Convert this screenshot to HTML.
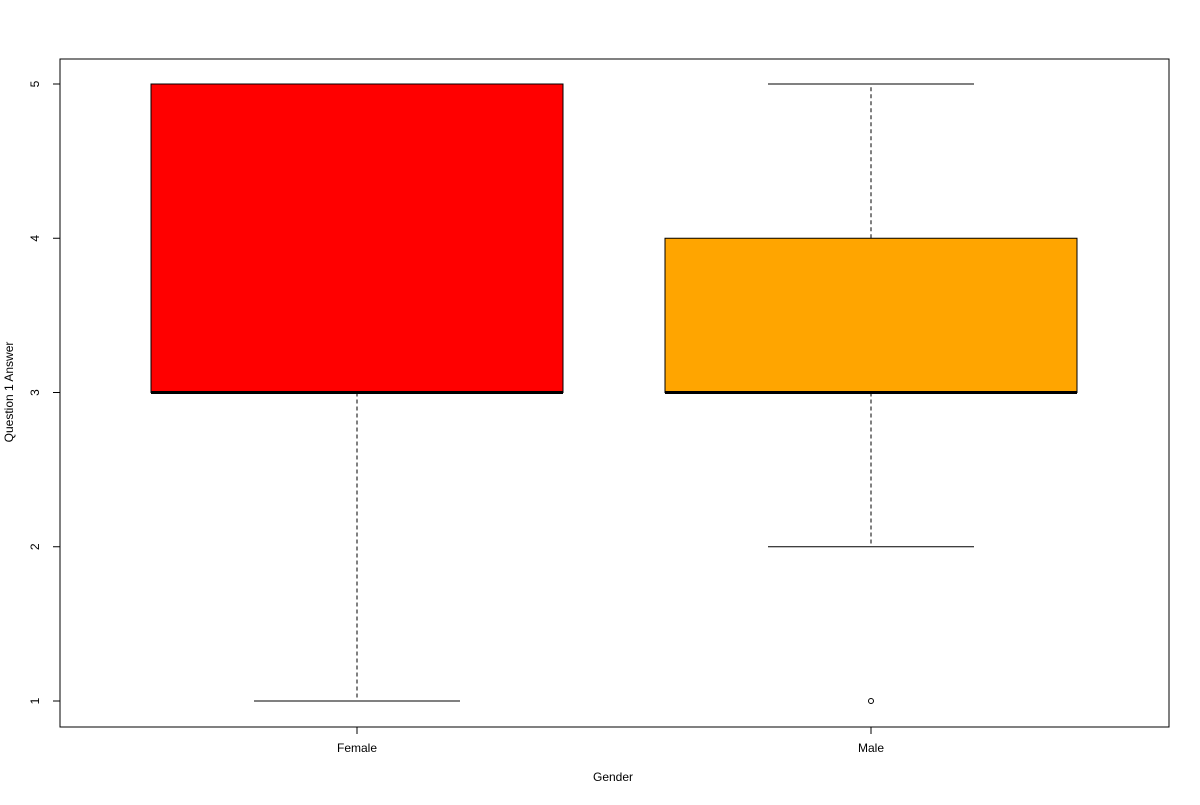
<!DOCTYPE html>
<html><head><meta charset="utf-8"><style>
body{margin:0;background:#fff}
svg text{font-family:"Liberation Sans",Arial,sans-serif;font-size:12px;fill:#000}
</style></head><body>
<svg id="chart" width="1200" height="800">
<rect x="60" y="59" width="1109" height="668" fill="none" stroke="#000"/>
<g id="marks"></g>
<text x="613" y="781" text-anchor="middle">Gender</text>
<text transform="translate(13,392) rotate(-90)" text-anchor="middle">Question 1 Answer</text>
</svg>
<script>
const categories=["Female","Male"];
const colors=["#ff0000","#ffa500"];
const mins=[1,2];
const q1s=[3,3];
const medians=[3,3];
const q3s=[5,4];
const maxs=[5,5];
const outliers=[[],[1]];
const yTicks=[1,2,3,4,5];
const NS="http://www.w3.org/2000/svg";
const g=document.getElementById('marks');
function yS(v){return 701-(v-1)*154.25;}
function xS(i){return 357+i*514;}
const halfBox=206,halfCap=103;
function mk(tag,attrs){const e=document.createElementNS(NS,tag);for(const k in attrs)e.setAttribute(k,attrs[k]);g.appendChild(e);return e;}
yTicks.forEach(t=>{
  const l=mk('line',{x1:53,x2:60,y1:yS(t),y2:yS(t),stroke:'#000'});
  
  
  const tx=mk('text',{transform:`translate(39,${yS(t)}) rotate(-90)`,'text-anchor':'middle'});
  tx.textContent=t;
  
  
});
categories.forEach((c,i)=>{
  const x=xS(i);
  const tk=mk('line',{x1:x,x2:x,y1:727,y2:734,stroke:'#000'});
  
  
  const lb=mk('text',{x:x,y:752,'text-anchor':'middle'});
  lb.textContent=c;
  
  
  const w1=mk('line',{x1:x,x2:x,y1:yS(q1s[i]),y2:yS(mins[i]),stroke:'#000','stroke-dasharray':'4,3'});
  
  
  const w2=mk('line',{x1:x,x2:x,y1:yS(q3s[i]),y2:yS(maxs[i]),stroke:'#000','stroke-dasharray':'4,3'});
  
  
  const c1=mk('line',{x1:x-halfCap,x2:x+halfCap,y1:yS(mins[i]),y2:yS(mins[i]),stroke:'#000'});
  
  
  const c2=mk('line',{x1:x-halfCap,x2:x+halfCap,y1:yS(maxs[i]),y2:yS(maxs[i]),stroke:'#000'});
  
  
  const b=mk('rect',{x:x-halfBox,y:yS(q3s[i]),width:2*halfBox,height:yS(q1s[i])-yS(q3s[i]),fill:colors[i],stroke:'#000'});
  
  
  const m=mk('line',{x1:x-halfBox,x2:x+halfBox,y1:yS(medians[i]),y2:yS(medians[i]),stroke:'#000','stroke-width':3});
  
  
  outliers[i].forEach(o=>{
    const p=mk('circle',{cx:x,cy:yS(o),r:2.5,fill:'none',stroke:'#000'});
    
    
  });
});
</script>
</body></html>
